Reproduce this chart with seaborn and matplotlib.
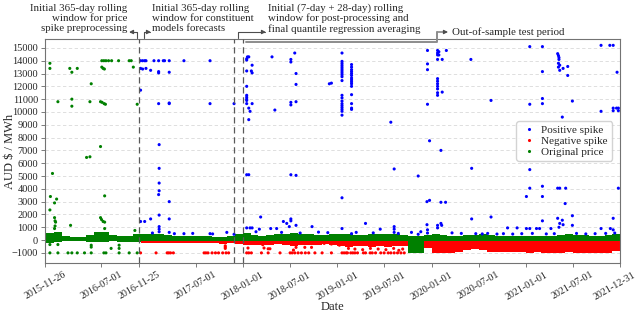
import numpy as np
import pandas as pd
import matplotlib
matplotlib.use("Agg")
import matplotlib.pyplot as plt
from matplotlib.lines import Line2D
from matplotlib.transforms import ScaledTranslation
import seaborn as sns

# ---------------- data ----------------
# spikes of the original price in the first (preprocessing) year
orig_points = [
    ("2015-12-15", 13800), ("2015-12-15", 13400), ("2016-03-01", 13400), ("2016-03-09", 13100),
    ("2016-03-30", 13400), ("2016-07-03", 14000), ("2016-07-11", 14000), ("2016-07-19", 14000),
    ("2016-07-29", 14000), ("2016-08-10", 14000), ("2016-09-06", 14000), ("2016-10-17", 14000),
    ("2016-10-25", 14000), ("2016-07-03", 13500), ("2016-07-08", 13400), ("2016-07-13", 13350),
    ("2016-11-02", 13500), ("2016-05-23", 12200), ("2016-01-15", 10800), ("2016-03-09", 11000),
    ("2016-03-09", 10450), ("2016-05-18", 10800), ("2016-06-28", 10800), ("2016-07-04", 10750),
    ("2016-07-12", 10650), ("2016-07-17", 10600), ("2016-11-17", 10600), ("2016-06-28", 7300),
    ("2016-05-05", 6450), ("2016-05-18", 6500), ("2015-12-25", 5200), ("2015-12-17", 3400),
    ("2016-01-10", 3200), ("2016-01-02", 2900), ("2015-12-15", 2350), ("2016-07-14", 3450),
    ("2016-01-02", 1750), ("2016-01-04", 1500), ("2016-01-06", 1400), ("2016-01-04", 1100),
    ("2016-01-02", 900), ("2016-03-04", 1150), ("2016-06-28", 1750), ("2016-07-02", 1600),
    ("2016-07-08", 1450), ("2016-07-14", 1400), ("2016-07-14", 900), ("2016-11-08", 750),
    ("2015-12-15", -350), ("2015-12-15", -1000), ("2016-01-15", -350), ("2016-01-15", -1000),
    ("2016-02-23", -1000), ("2016-03-09", -1000), ("2016-03-30", -1000), ("2016-04-27", -1000),
    ("2016-05-23", -1000), ("2016-05-23", -400), ("2016-05-23", -550), ("2016-07-11", -1000),
    ("2016-07-19", -1000), ("2016-08-08", -650), ("2016-09-08", -400), ("2016-09-08", -650),
    ("2016-09-08", -1000), ("2016-10-17", -1000), ("2016-11-17", -1000),
]

pos_points = [
    # 2016-11 .. 2017-11
    ("2016-11-30", 14000), ("2016-12-08", 14000), ("2016-12-16", 14000), ("2016-12-21", 14000),
    ("2017-01-21", 14000), ("2017-02-08", 14000), ("2017-02-26", 14000), ("2017-03-03", 14000),
    ("2017-03-21", 14000), ("2017-05-17", 14000), ("2017-08-26", 14000), ("2016-11-30", 13400),
    ("2016-12-08", 13350), ("2016-12-21", 13400), ("2017-01-08", 13250), ("2017-02-08", 13150),
    ("2017-02-08", 13050), ("2017-03-21", 13100), ("2016-11-30", 11700), ("2017-02-08", 10650),
    ("2017-03-21", 10650), ("2017-03-21", 10700), ("2017-08-26", 10650), ("2017-11-27", 10650),
    ("2017-02-10", 7450), ("2017-02-10", 5600), ("2017-02-10", 4450), ("2017-02-10", 3850),
    ("2017-02-08", 3550), ("2017-03-21", 3000), ("2017-02-10", 1950), ("2016-11-30", 1450),
    ("2016-12-16", 1450), ("2017-01-08", 1650), ("2017-03-21", 1650), ("2017-02-10", 1050),
    ("2017-02-10", 850), ("2017-02-10", 650), ("2017-03-21", 600), ("2017-05-17", 500),
    ("2017-08-26", 500), ("2017-11-27", 450),
    # 2018
    ("2018-01-18", 14300), ("2018-01-23", 14300), ("2018-01-15", 14150), ("2018-01-15", 14050),
    ("2018-04-23", 14300), ("2018-07-20", 14600), ("2018-07-05", 14100), ("2018-07-05", 13900),
    ("2018-02-05", 13650), ("2018-01-15", 13200), ("2018-02-02", 13200), ("2018-02-05", 13050),
    ("2018-07-25", 13000), ("2018-07-25", 12150), ("2018-01-15", 12000), ("2018-01-15", 11300),
    ("2018-01-15", 11150), ("2018-01-15", 11000), ("2018-01-15", 10900), ("2018-01-15", 10650),
    ("2018-02-05", 10650), ("2018-01-23", 10300), ("2018-01-28", 10050), ("2018-01-23", 9400),
    ("2018-05-04", 10150), ("2018-07-05", 10750), ("2018-07-05", 10550), ("2018-07-25", 10800),
    ("2018-12-01", 12200), ("2018-12-09", 12250), ("2018-01-15", 5100), ("2018-01-23", 5100),
    ("2018-07-05", 5100), ("2018-07-25", 5050), ("2018-03-10", 1800), ("2018-06-06", 1450),
    ("2018-06-19", 1300), ("2018-07-05", 1650), ("2018-07-05", 1500), ("2018-06-29", 1050),
    ("2018-07-25", 1150), ("2018-09-25", 1050), ("2018-01-15", 950), ("2018-01-28", 950),
    ("2018-02-05", 950), ("2018-04-18", 900), ("2018-05-11", 900), ("2018-03-05", 850),
    # 2019
    ("2019-01-19", 14600), ("2019-01-19", 13950), ("2019-01-19", 13800), ("2019-01-19", 13650),
    ("2019-01-19", 13500), ("2019-01-19", 13350), ("2019-01-19", 13200), ("2019-01-19", 13050),
    ("2019-01-19", 12900), ("2019-01-19", 12750), ("2019-01-19", 12450), ("2019-01-19", 11300),
    ("2019-01-19", 11100), ("2019-01-19", 10850), ("2019-01-19", 10650), ("2019-01-19", 10500),
    ("2019-01-19", 10350), ("2019-01-19", 10200), ("2019-01-19", 10050), ("2019-01-19", 9750),
    ("2019-01-19", 3300), ("2019-01-19", 900), ("2019-02-25", 13700), ("2019-02-25", 13500),
    ("2019-02-25", 13300), ("2019-02-25", 13150), ("2019-02-25", 13000), ("2019-02-25", 12850),
    ("2019-02-25", 12650), ("2019-02-25", 12500), ("2019-02-25", 12350), ("2019-02-25", 12200),
    ("2019-02-25", 12000), ("2019-02-25", 11350), ("2019-02-25", 10650), ("2019-02-25", 10300),
    ("2019-02-25", 10200), ("2019-02-25", 500), ("2019-07-27", 9200), ("2019-08-09", 5550),
    ("2019-11-10", 5000), ("2019-12-16", 14800), ("2019-12-16", 13750), ("2019-12-16", 13300),
    ("2019-12-16", 10600), ("2019-12-24", 7750), ("2019-12-14", 3000), ("2019-12-24", 3100),
    ("2019-04-20", 1300), ("2019-06-16", 850), ("2019-08-09", 1050), ("2019-08-09", 850),
    ("2019-08-09", 600), ("2019-11-10", 450), ("2019-12-14", 1200), ("2019-12-16", 800),
    ("2019-12-16", 550),
    # 2020
    ("2020-01-24", 14800), ("2020-01-24", 14600), ("2020-01-29", 14700), ("2020-01-24", 14450),
    ("2020-01-29", 14450), ("2020-01-24", 14100), ("2020-02-11", 14100), ("2020-02-27", 14800),
    ("2020-06-01", 14100), ("2020-01-24", 12600), ("2020-01-24", 12400), ("2020-01-24", 12200),
    ("2020-01-24", 12000), ("2020-01-24", 11800), ("2020-01-24", 11500), ("2020-01-24", 11300),
    ("2020-02-11", 11550), ("2020-08-18", 10900), ("2020-02-06", 7000), ("2020-06-04", 5600),
    ("2020-02-06", 2950), ("2020-02-24", 2950), ("2020-06-04", 1650), ("2020-08-18", 1800),
    ("2020-10-21", 950), ("2020-11-27", 950), ("2020-02-06", 1300), ("2020-02-09", 1150),
    ("2020-01-24", 1150), ("2020-01-24", 950),
    # 2021
    ("2021-01-02", 3400), ("2021-01-15", 15100), ("2021-03-05", 15100), ("2021-10-18", 15200),
    ("2021-11-21", 15200), ("2021-12-04", 15200), ("2021-05-03", 14550), ("2021-05-06", 14400),
    ("2021-05-08", 14250), ("2021-05-08", 14100), ("2021-05-06", 13800), ("2021-05-11", 13650),
    ("2021-05-06", 13500), ("2021-05-11", 13250), ("2021-05-24", 13400), ("2021-06-11", 13550),
    ("2021-06-11", 12850), ("2021-03-05", 13150), ("2021-12-19", 13100), ("2021-01-15", 10600),
    ("2021-03-05", 11050), ("2021-03-05", 10650), ("2021-06-29", 10850), ("2021-05-21", 9600),
    ("2021-10-18", 10050), ("2021-12-04", 10300), ("2021-12-17", 10300), ("2021-12-24", 10300),
    ("2021-12-04", 10100), ("2021-12-24", 10100), ("2021-01-15", 5500), ("2021-01-15", 4050),
    ("2021-03-05", 4200), ("2021-03-05", 3400), ("2021-05-03", 4050), ("2021-05-11", 4050),
    ("2021-06-03", 4050), ("2021-06-01", 2850), ("2021-06-29", 1900), ("2021-03-05", 1500),
    ("2021-05-03", 1700), ("2021-05-21", 1550), ("2021-05-11", 1300), ("2021-12-04", 1700),
    ("2021-12-24", 4050), ("2021-01-02", 900), ("2021-01-15", 900), ("2021-02-10", 900),
    ("2021-02-22", 900), ("2021-04-07", 900), ("2021-05-08", 1000), ("2021-05-24", 1200),
    ("2021-06-29", 1150), ("2021-10-18", 900), ("2021-11-23", 900), ("2021-12-04", 800),
    # small spikes just above the normal band
    ("2017-01-15", 550), ("2017-04-10", 500), ("2017-06-20", 520), ("2017-09-05", 480),
    ("2017-10-30", 600), ("2018-02-20", 650), ("2018-05-30", 600), ("2018-08-10", 550),
    ("2018-10-20", 620), ("2018-11-25", 580), ("2019-03-15", 600), ("2019-05-20", 560),
    ("2019-08-25", 520), ("2019-10-15", 600), ("2019-11-20", 650), ("2020-03-20", 560),
    ("2020-04-25", 520), ("2020-06-20", 500), ("2020-07-15", 480), ("2020-08-05", 520),
    ("2020-09-10", 470), ("2020-10-05", 500), ("2020-11-10", 470), ("2020-12-15", 500),
    ("2021-01-25", 520), ("2021-03-20", 480), ("2021-04-20", 500), ("2021-07-15", 520),
    ("2021-08-20", 480), ("2021-09-25", 500), ("2021-11-05", 520), ("2021-12-10", 550),
]

neg_points = [
    ("2016-11-30", -1000), ("2017-01-29", -1000), ("2017-03-13", -1000), ("2017-03-19", -1000),
    ("2017-03-26", -1000), ("2017-04-06", -1000), ("2017-08-03", -1000), ("2017-08-10", -1000),
    ("2017-08-18", -1000), ("2017-09-03", -1000), ("2017-09-16", -1000), ("2017-09-28", -1000),
    ("2017-10-14", -1000), ("2017-10-27", -1000), ("2017-11-06", -1000), ("2017-10-24", -450),
    ("2017-10-24", -550), ("2017-10-24", -650),
    ("2018-01-15", -1000), ("2018-01-23", -1000), ("2018-02-02", -1000), ("2018-03-13", -1000),
    ("2018-04-08", -1000), ("2018-05-24", -1000), ("2018-07-02", -1000), ("2018-07-10", -1000),
    ("2018-07-20", -1000), ("2018-08-02", -1000), ("2018-08-15", -1000), ("2018-08-30", -1000),
    ("2018-09-12", -1000), ("2018-10-06", -1000), ("2018-11-03", -1000), ("2018-12-09", -1000),
    ("2018-01-15", -260), ("2018-01-20", -620), ("2018-03-18", -360), ("2018-03-23", -620),
    ("2018-04-08", -680), ("2018-04-15", -680), ("2018-07-07", -310), ("2018-07-15", -780),
    ("2018-07-25", -570), ("2018-08-20", -260), ("2018-08-28", -570), ("2018-09-23", -570),
    ("2018-11-11", -260), ("2018-12-09", -310),
    ("2019-01-19", -1000), ("2019-01-27", -1000), ("2019-02-04", -1000), ("2019-02-09", -1000),
    ("2019-02-22", -1000), ("2019-03-02", -1000), ("2019-03-10", -1000), ("2019-03-20", -1000),
    ("2019-04-12", -1000), ("2019-04-20", -1000), ("2019-05-08", -1000), ("2019-05-16", -1000),
    ("2019-05-29", -1000), ("2019-06-18", -1000), ("2019-07-01", -1000), ("2019-07-17", -1000),
    ("2019-07-27", -1000), ("2019-08-09", -1000), ("2019-08-22", -1000), ("2019-09-04", -1000),
    ("2019-09-17", -1000), ("2019-01-09", -400), ("2019-02-13", -650), ("2019-03-10", -700),
    ("2019-04-09", -750), ("2019-05-09", -650), ("2019-06-08", -700), ("2019-07-08", -750),
    ("2019-08-07", -650), ("2019-08-27", -800), ("2019-09-11", -700),
]

# monthly envelope of the dense price band (Nov 2015 .. Dec 2021)
green_hi = [600, 550,
            600, 300, 250, 250, 400, 600, 650, 400, 300, 350, 450, 450,
            500, 450, 400, 350, 300, 350, 300, 300, 250, 250, 350, 450,
            550, 400, 350, 400, 450, 500, 550, 500, 450, 400, 400, 450,
            500, 450, 400, 400, 450, 500, 450, 450, 400, 350, 350, 400,
            450, 400, 350, 350, 400, 400, 450, 400, 300, 300, 300, 350,
            350, 350, 300, 350, 400, 450, 400, 400, 350, 350, 400, 450]
green_lo = [-150, -200,
            -150, -100, -100, -100, -150, -150, -120, -100, -150, -150, -150, -80,
            -80, -80, -80, -80, -80, -80, -80, -80, -80, -80, -80, -80,
            -80, -80, -80, -80, -80, -80, -80, -80, -80, -80, -80, -80,
            -80, -80, -80, -80, -80, -80, -80, -80, -80, -1000, -1000, -80,
            -80, -80, -80, -80, -80, -80, -80, -80, -80, -80, -80, -80,
            -80, -80, -80, -80, -80, -80, -80, -80, -80, -80, -80, -80]
# monthly lower edge of the dense negative-spike cloud
red_lo = [np.nan, np.nan,
          np.nan, np.nan, np.nan, np.nan, np.nan, np.nan, np.nan, np.nan, np.nan, np.nan, np.nan, -220,
          -220, -250, -250, -220, -200, -200, -200, -250, -250, -300, -250, -300,
          -400, -350, -400, -350, -300, -350, -450, -400, -350, -350, -300, -350,
          -500, -550, -500, -450, -550, -500, -550, -500, -450, -400, -400, -600,
          -1000, -1000, -1000, -950, -800, -700, -750, -900, -900, -950, -950, -950,
          -1000, -950, -1000, -1000, -1000, -950, -1000, -1000, -1000, -1000, -1000, -850]

split_dates = ["2016-11-25", "2017-11-25", "2017-12-30"]
tick_dates = ["2015-11-26", "2016-07-01", "2016-11-25", "2017-07-01", "2018-01-01",
              "2018-07-01", "2019-01-01", "2019-07-01", "2020-01-01", "2020-07-01",
              "2021-01-01", "2021-07-01", "2021-12-31"]
yticks = list(range(-1000, 15001, 1000))

# ---------------- build frames ----------------
def to_frame(points, kind):
    df = pd.DataFrame(points, columns=["date", "price"])
    df["date"] = pd.to_datetime(df["date"])
    df["kind"] = kind
    return df

spikes = pd.concat([to_frame(pos_points, "Positive spike"),
                    to_frame(neg_points, "Negative spike"),
                    to_frame(orig_points, "Original price")], ignore_index=True)

band_x = pd.DatetimeIndex([pd.Timestamp("2015-11-26")]).append(
    pd.date_range("2015-12-01", "2021-12-01", freq="MS")).append(
    pd.DatetimeIndex([pd.Timestamp("2021-12-31")]))
g_hi = np.append(green_hi, green_hi[-1])
g_lo = np.append(green_lo, green_lo[-1])
r_lo = np.append(red_lo, red_lo[-1])

# ---------------- plot ----------------
sns.set_theme(style="white")
plt.rcParams["font.family"] = ["Liberation Serif", "DejaVu Serif"]

fig, ax = plt.subplots(figsize=(6.4, 3.14), dpi=100)
fig.subplots_adjust(left=0.0703, right=0.969, top=0.876, bottom=0.162)

ax.fill_between(band_x, r_lo, -60, where=~np.isnan(r_lo), step="post",
                color="red", lw=0, zorder=1)
ax.fill_between(band_x, g_lo, g_hi, step="post", color="green", lw=0, zorder=2)

sns.scatterplot(data=spikes, x="date", y="price", hue="kind",
                hue_order=["Positive spike", "Negative spike", "Original price"],
                palette=["blue", "red", "green"], s=5, linewidth=0, ax=ax, zorder=3)

for d in split_dates:
    ax.axvline(pd.Timestamp(d), color="0.35", ls=(0, (5, 3)), lw=0.9, zorder=4)

ax.set_xlim(pd.Timestamp("2015-11-26"), pd.Timestamp("2021-12-31"))
ax.set_ylim(-1800, 15700)
ax.set_xticks(pd.to_datetime(tick_dates))
ax.set_xticklabels(tick_dates, rotation=30, fontsize=7.2)
ax.set_yticks(yticks)
ax.yaxis.grid(True, ls=(0, (4, 3)), color="0.85", lw=0.6)
ax.set_axisbelow(True)
ax.tick_params(axis="y", labelsize=7.5)
ax.tick_params(axis="both", length=3, width=0.6, color="0.4",
               pad=2, bottom=True, left=True)
for s in ax.spines.values():
    s.set_color("0.45")
    s.set_linewidth(0.8)

# keep the last date label inside the canvas
last = ax.get_xticklabels()[-1]
last.set_transform(last.get_transform() + ScaledTranslation(-4 / 72, 0, fig.dpi_scale_trans))

ax.set_xlabel("Date", fontsize=9, labelpad=0)
ax.set_ylabel("AUD \\$ / MWh", fontsize=9, va="center")
ax.yaxis.set_label_coords(-0.061, 0.5)

sns.move_legend(ax, "center right", bbox_to_anchor=(0.995, 0.545), title=None,
                fontsize=8, frameon=True, framealpha=0.85, edgecolor="0.8",
                handletextpad=0.3, borderpad=0.35, labelspacing=0.1, handlelength=1.6)

# ---------------- annotations above the axes ----------------
def fx(px):
    return px / 640

def fy(py):
    return 1 - py / 314

txt = dict(fontsize=7.8, linespacing=1.1, va="center")
fig.text(fx(127), fy(18.5), "Initial 365-day rolling\nwindow for price\nspike preprocessing",
         ha="right", multialignment="right", **txt)
fig.text(fx(152), fy(18.5), "Initial 365-day rolling\nwindow for constituent\nmodels forecasts",
         ha="left", multialignment="left", **txt)
fig.text(fx(268), fy(18.5), "Initial (7-day + 28-day) rolling\nwindow for post-processing and\n"
         "final quantile regression averaging", ha="left", multialignment="left", **txt)
fig.text(fx(452), fy(32), "Out-of-sample test period", ha="left", **txt)

arr = dict(arrowstyle="-|>", color="0.3", lw=0.8, mutation_scale=6, shrinkA=0, shrinkB=0)
for start, end in [((137, 37.5), (129, 32)), ((144, 37.5), (151, 32)), ((238, 37.5), (266, 32))]:
    ax.annotate("", xy=(fx(end[0]), fy(end[1])), xycoords="figure fraction",
                xytext=(fx(start[0]), fy(start[1])), textcoords="figure fraction",
                arrowprops=dict(connectionstyle="angle,angleA=90,angleB=0,rad=0", **arr))

fig.add_artist(Line2D([fx(246), fx(437), fx(437)], [fy(41.5), fy(41.5), fy(32)],
                      transform=fig.transFigure, color="0.55", lw=1.4))
ax.annotate("", xy=(fx(448), fy(32)), xycoords="figure fraction",
            xytext=(fx(437), fy(32)), textcoords="figure fraction", arrowprops=arr)

fig.savefig("out.png", dpi=100)
